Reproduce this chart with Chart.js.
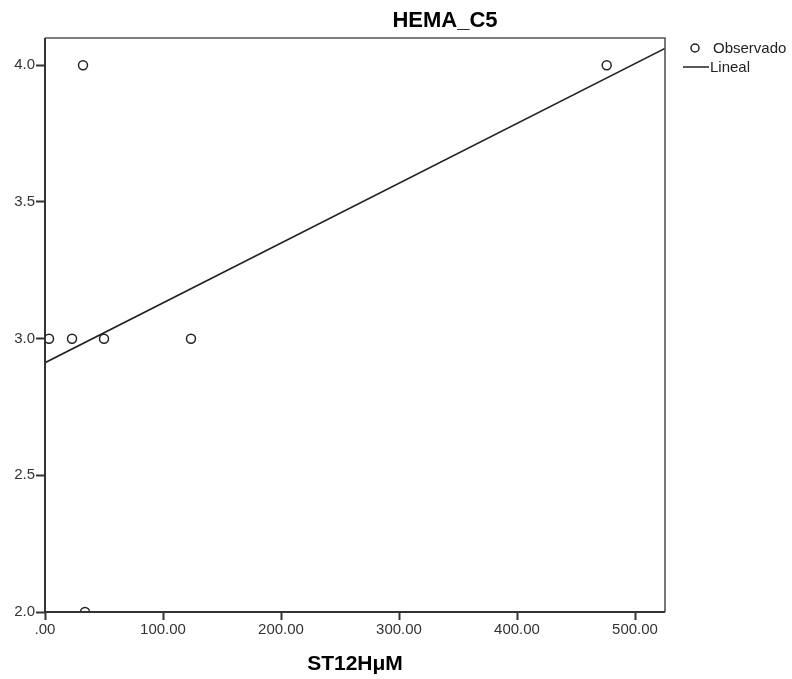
<!DOCTYPE html>
<html lang="es">
<head>
    <meta charset="UTF-8">
    <title>HEMA_C5</title>
    <script src="https://cdn.jsdelivr.net/npm/chart.js"></script>
    <style>
        html, body { margin: 0; padding: 0; background: #fff; }
        #wrap { width: 792px; height: 679px; }
    </style>
</head>
<body>
    <div id="wrap"><canvas id="scatterChart"></canvas></div>

    <script>
        // valores
        const obsX = [3.4, 22.9, 50.0, 123.7, 32.2, 33.9, 476.0];
        const obsY = [3, 3, 3, 3, 4, 2, 4];

        // recta lineal (extremos leidos)
        const fitX = [0, 525.4];
        const fitY = [2.912, 4.062];

        const xRange = [0, 525.4];
        const yRange = [2.0, 4.1];
        const xStep = 100;
        const yStep = 0.5;

        const chartTitle = "HEMA_C5";
        const xTitle = "ST12HμM";
        const seriesNames = ["Observado", "Lineal"];

        const observed = obsX.map((x, i) => ({ x: x, y: obsY[i] }));
        const fitted = fitX.map((x, i) => ({ x: x, y: fitY[i] }));

        const ink = "#222";

        // titulo, marco y leyenda al estilo SPSS
        const spssDecor = {
            id: "spssDecor",
            afterDraw(chart) {
                const ctx = chart.ctx;
                const a = chart.chartArea;
                ctx.save();

                // marco: arriba y derecha mas claros
                ctx.lineWidth = 1.6;
                ctx.strokeStyle = "#555";
                ctx.beginPath();
                ctx.moveTo(a.left, a.top);
                ctx.lineTo(a.right, a.top);
                ctx.lineTo(a.right, a.bottom);
                ctx.stroke();
                ctx.lineWidth = 2;
                ctx.strokeStyle = "#333";
                ctx.beginPath();
                ctx.moveTo(a.left, a.top);
                ctx.lineTo(a.left, a.bottom);
                ctx.lineTo(a.right, a.bottom);
                ctx.stroke();

                ctx.fillStyle = "#000";
                ctx.font = "bold 22px 'Liberation Sans', Arial, sans-serif";
                ctx.textAlign = "center";
                ctx.textBaseline = "middle";
                ctx.fillText(chartTitle, 445, 21);

                // leyenda
                ctx.font = "15px 'Liberation Sans', Arial, sans-serif";
                ctx.textAlign = "left";
                ctx.fillStyle = ink;
                ctx.strokeStyle = ink;
                ctx.lineWidth = 1.5;
                ctx.beginPath();
                ctx.arc(695, 48, 4, 0, Math.PI * 2);
                ctx.stroke();
                ctx.fillText(seriesNames[0], 713, 49);

                ctx.beginPath();
                ctx.moveTo(683, 67);
                ctx.lineTo(709, 67);
                ctx.stroke();
                ctx.fillText(seriesNames[1], 710, 68);

                ctx.restore();
            }
        };

        const ctx = document.getElementById("scatterChart").getContext("2d");

        new Chart(ctx, {
            type: "scatter",
            data: {
                datasets: [
                    {
                        label: seriesNames[1],
                        data: fitted,
                        showLine: true,
                        borderColor: ink,
                        borderWidth: 1.7,
                        pointRadius: 0,
                        order: 2
                    },
                    {
                        label: seriesNames[0],
                        data: observed,
                        pointStyle: "circle",
                        pointRadius: 4.5,
                        pointBorderWidth: 1.5,
                        pointBackgroundColor: "#fff",
                        pointBorderColor: ink,
                        order: 1
                    }
                ]
            },
            options: {
                responsive: true,
                maintainAspectRatio: false,
                animation: false,
                layout: {
                    padding: { left: 0, top: 38, right: 127, bottom: 0 }
                },
                plugins: {
                    legend: { display: false },
                    tooltip: { enabled: false },
                    title: { display: false }
                },
                scales: {
                    x: {
                        type: "linear",
                        min: xRange[0],
                        max: xRange[1],
                        border: { display: false },
                        grid: {
                            drawOnChartArea: false,
                            drawTicks: true,
                            tickLength: 8,
                            tickColor: "#333",
                            tickWidth: 2
                        },
                        ticks: {
                            stepSize: xStep,
                            includeBounds: false,
                            maxRotation: 0,
                            padding: 1,
                            color: "#333",
                            font: { family: "'Liberation Sans', Arial, sans-serif", size: 15 },
                            callback: v => v === 0 ? ".00" : v.toFixed(2)
                        },
                        title: {
                            display: true,
                            text: xTitle,
                            color: "#000",
                            font: { family: "'Liberation Sans', Arial, sans-serif", size: 21, weight: "bold", lineHeight: 1 },
                            padding: { top: 0, bottom: 4 }
                        },
                        afterFit: scale => { scale.height = 67; }
                    },
                    y: {
                        type: "linear",
                        min: yRange[0],
                        max: yRange[1],
                        border: { display: false },
                        grid: {
                            drawOnChartArea: false,
                            drawTicks: true,
                            tickLength: 9,
                            tickColor: "#333",
                            tickWidth: 2
                        },
                        ticks: {
                            stepSize: yStep,
                            includeBounds: false,
                            padding: 1,
                            color: "#333",
                            font: { family: "'Liberation Sans', Arial, sans-serif", size: 15 },
                            callback: v => v.toFixed(1)
                        },
                        afterFit: scale => { scale.width = 45; }
                    }
                }
            },
            plugins: [spssDecor]
        });
    </script>
</body>
</html>
